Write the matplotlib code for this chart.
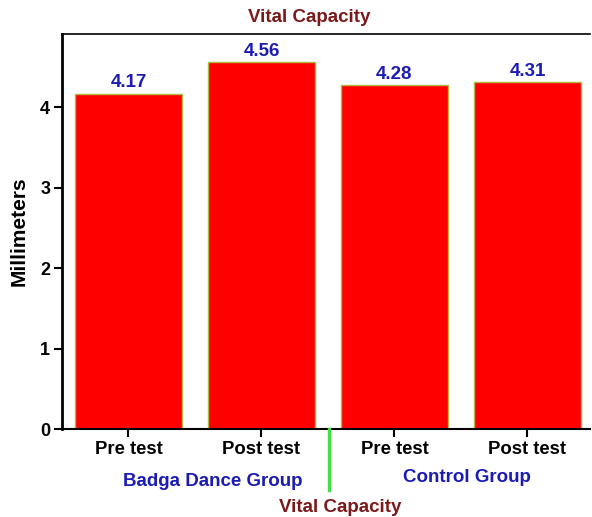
import numpy as np
import matplotlib
matplotlib.use("Agg")
import matplotlib.pyplot as plt
from matplotlib.lines import Line2D

plt.rcParams['font.family'] = ['Liberation Sans', 'DejaVu Sans']

# data
labels = ['Pre test', 'Post test', 'Pre test', 'Post test']
values = [4.17, 4.56, 4.28, 4.31]
groups = ['Badga Dance Group', 'Control Group']

W, H = 592, 517
fig = plt.figure(figsize=(W / 100, H / 100), dpi=100)
ax = fig.add_axes([62 / W, 1 - 429 / H, 528 / W, 395 / H])

x = np.arange(len(values))
ax.bar(x, values, width=0.8, color='#ff0000', edgecolor='#b0b840', linewidth=1)

for xi, v in zip(x, values):
    ax.annotate('%.2f' % v, (xi, v), xytext=(0, 1.5), textcoords='offset points',
                ha='center', va='bottom', color='#1c1cb4', fontsize=13.5,
                fontweight='bold')

ax.set_xlim(-0.5, 3.47)
ax.set_ylim(0, 4.91)
ax.set_xticks(x)
ax.set_xticklabels(labels, fontsize=13.3, fontweight='bold')
ax.set_yticks([0, 1, 2, 3, 4])
ax.set_yticklabels(['0', '1', '2', '3', '4'], fontsize=13, fontweight='bold')
ax.tick_params(axis='both', length=5.5, width=1.5, direction='out', pad=3)
ax.spines['right'].set_visible(False)
ax.spines['left'].set_linewidth(2)
ax.spines['bottom'].set_linewidth(1.5)
ax.spines['top'].set_linewidth(1.2)
ax.set_ylabel('Millimeters', fontsize=15, fontweight='bold', labelpad=8)

fig.text(309 / W, 1 - 18 / H, 'Vital Capacity', ha='center', va='center',
         color='#7b1a1a', fontsize=13.5, fontweight='bold')

# group labels and separator below the axis
fig.text(213 / W, 1 - 481 / H, groups[0], ha='center', va='center',
         color='#1c1cb4', fontsize=13.5, fontweight='bold')
fig.text(467 / W, 1 - 478 / H, groups[1], ha='center', va='center',
         color='#1c1cb4', fontsize=13.5, fontweight='bold')
fig.add_artist(Line2D([329 / W, 329 / W], [1 - 429 / H, 1 - 490 / H],
                      color='#44dd44', linewidth=2.5))
fig.text(340 / W, 1 - 507 / H, 'Vital Capacity', ha='center', va='center',
         color='#7b1a1a', fontsize=13.5, fontweight='bold')

fig.savefig('out.png', dpi=100)
